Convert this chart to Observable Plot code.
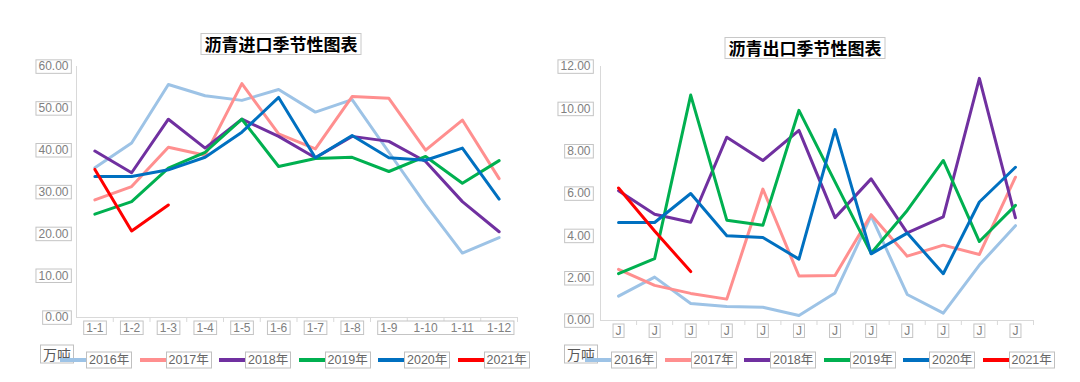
<!DOCTYPE html>
<html><head><meta charset="utf-8">
<script src="https://cdn.jsdelivr.net/npm/d3@7"></script>
<script src="https://cdn.jsdelivr.net/npm/@observablehq/plot@0.6"></script>
<style>
body{margin:0;background:#fff;}
#wrap{position:relative;width:1080px;height:382px;overflow:hidden;font-family:"Liberation Sans",Arial,"Noto Sans CJK SC",sans-serif;}
.panel{position:absolute;top:0;width:540px;height:382px;}
.panel svg{position:absolute;left:0;top:0;overflow:visible;}
.title{position:absolute;font-family:"Noto Sans CJK SC",sans-serif;font-weight:700;font-size:17px;color:#000;border:1px solid #c8c8c8;padding:0 3px;line-height:20px;white-space:nowrap;transform:translate(-50%,-50%);background:#fff;}
.unit{position:absolute;font-family:"Noto Sans CJK SC",sans-serif;font-size:14px;color:#595959;border:1px solid #c0c0c0;padding:0 2px;line-height:17px;transform:translateY(-50%);background:#fff;}
.lg-line{position:absolute;height:4px;margin-top:-2px;}
.lg-text{position:absolute;border:1px solid #c0c0c0;font-size:12.5px;color:#666;padding:0 2px;line-height:15px;transform:translateY(-50%);white-space:nowrap;background:#fff;font-family:"Liberation Sans","Noto Sans CJK SC",sans-serif;}
</style>
</head><body>
<div id="wrap">
  <div class="panel" id="left" style="left:0"></div>
  <div class="panel" id="right" style="left:540px"></div>
</div>
<script>
// ---- data ----
const years = ["2016年","2017年","2018年","2019年","2020年","2021年"];
const colors = ["#9dc3e6","#ff8f8f","#7030a0","#00b050","#0070c0","#ff0000"];

const importMonths = ["1-1","1-2","1-3","1-4","1-5","1-6","1-7","1-8","1-9","1-10","1-11","1-12"];
const importTicks = [0,10,20,30,40,50,60];
const import2016 = [35.8,41.7,55.7,53.0,51.9,54.5,49.1,52.1,39.5,27.0,15.4,19.1];
const import2017 = [28.1,31.3,40.7,38.8,55.9,43.9,40.3,52.8,52.4,40.0,47.2,33.2];
const import2018 = [39.8,34.6,47.4,40.5,47.4,43.3,38.2,43.3,42.1,37.3,27.7,20.5];
const import2019 = [24.7,27.7,35.7,39.5,47.4,36.1,38.0,38.3,34.9,38.5,32.1,37.5];
const import2020 = [33.7,33.7,35.3,38.3,44.3,52.6,38.2,43.5,38.2,37.6,40.5,28.3];
const import2021 = [35.4,20.7,26.9];

const exportMonths = [1,2,3,4,5,6,7,8,9,10,11,12];
const exportMonthLabels = ["J","J","J","J","J","J","J","J","J","J","J","J"];
const exportTicks = [0,2,4,6,8,10,12];
const export2016 = [1.15,2.05,0.80,0.66,0.63,0.24,1.30,4.94,1.23,0.35,2.62,4.48];
const export2017 = [2.42,1.66,1.28,1.01,6.21,2.10,2.13,5.00,3.04,3.56,3.12,6.77];
const export2018 = [6.13,5.02,4.64,8.66,7.56,8.98,4.86,6.69,4.14,4.90,11.44,4.85];
const export2019 = [2.21,2.92,10.65,4.74,4.50,9.93,6.55,3.18,5.20,7.56,3.73,5.44];
const export2020 = [4.63,4.63,6.00,4.00,3.92,2.90,9.02,3.15,4.13,2.21,5.60,7.24];
const export2021 = [6.26,4.23,2.31];

function rows(series, domain) {
  return series.flatMap((vals, i) => vals.map((v, j) => ({year: years[i], x: domain[j], v})));
}

function textBox(t) {
  const bb = t.getBBox();
  let tx = 0, ty = 0;
  const tl = t.transform && t.transform.baseVal;
  if (tl && tl.numberOfItems) { const m = tl.consolidate().matrix; tx = m.e; ty = m.f; }
  const x = (+t.getAttribute("x") || 0) * 0, y = 0; // bbox already includes x/y attrs
  return {x0: bb.x + tx, y0: bb.y + ty, x1: bb.x + bb.width + tx, y1: bb.y + bb.height + ty};
}

function addBoxes(svg, groupIndex, merge) {
  const groups = svg.querySelectorAll('g[aria-label="text"]');
  const g = groups[groupIndex];
  const texts = Array.from(g.querySelectorAll("text"));
  const ns = "http://www.w3.org/2000/svg";
  const boxes = [];
  if (merge) {
    const [a, b] = merge;
    texts.forEach((t, i) => { if (i < a) boxes.push([t]); });
    boxes.push(texts.slice(a, b + 1));
  } else texts.forEach(t => boxes.push([t]));
  for (const list of boxes) {
    let x0 = Infinity, y0 = Infinity, x1 = -Infinity, y1 = -Infinity;
    for (const t of list) {
      const b = textBox(t);
      x0 = Math.min(x0, b.x0); y0 = Math.min(y0, b.y0);
      x1 = Math.max(x1, b.x1); y1 = Math.max(y1, b.y1);
    }
    const r = document.createElementNS(ns, "rect");
    r.setAttribute("x", x0 - 2.5); r.setAttribute("y", y0 + 0.5);
    r.setAttribute("width", x1 - x0 + 5); r.setAttribute("height", y1 - y0 - 0.5);
    r.setAttribute("fill", "#fff"); r.setAttribute("stroke", "#c4c4c4"); r.setAttribute("stroke-width", 1);
    g.insertBefore(r, texts[0]);
  }
}

function chart(el, cfg) {
  const bw = (540 - cfg.ml - cfg.mr) / 12;
  const svg = Plot.plot({
    width: 540, height: 382,
    marginLeft: cfg.ml, marginRight: cfg.mr, marginTop: cfg.mt, marginBottom: cfg.mb,
    x: {type: "band", domain: cfg.domain, padding: 0, round: false, axis: null},
    y: {domain: cfg.ydomain, axis: null},
    color: {domain: years, range: colors},
    style: {fontFamily: '"Liberation Sans", Arial, sans-serif', fontSize: "12px", background: "transparent", overflow: "visible"},
    marks: [
      Plot.ruleY([0], {stroke: "#d9d9d9"}),
      Plot.ruleX([cfg.domain[0]], {x: d => d, dx: -bw / 2, stroke: "#d9d9d9"}),
      Plot.ruleX(cfg.domain, {x: d => d, dx: bw / 2, y1: 0, y2: 0, insetBottom: -5, stroke: "#d9d9d9"}),
      Plot.text(cfg.yticks, {y: d => d, text: d => d.toFixed(2), frameAnchor: "left", textAnchor: "end", dx: cfg.ydx, fill: "#808080"}),
      Plot.text(cfg.domain, {x: d => d, text: (d, i) => cfg.labels[i], frameAnchor: "bottom", dy: 14, fill: "#808080"}),
      Plot.line(rows(cfg.series, cfg.domain), {x: "x", y: "v", z: "year", stroke: "year", strokeWidth: 3, strokeLinejoin: "round", strokeLinecap: "round"})
    ]
  });
  el.appendChild(svg);
  addBoxes(svg, 0);
  addBoxes(svg, 1, cfg.merge);

  const t = document.createElement("div");
  t.className = "title"; t.textContent = cfg.title;
  t.style.left = cfg.tx + "px"; t.style.top = cfg.ty + "px";
  el.appendChild(t);

  const u = document.createElement("div");
  u.className = "unit"; u.textContent = "万吨";
  u.style.left = cfg.ux + "px"; u.style.top = "354px";
  el.appendChild(u);

  years.forEach((y, i) => {
    const x = cfg.lx + i * 79.5;
    const l = document.createElement("div");
    l.className = "lg-line"; l.style.background = colors[i];
    l.style.left = x + "px"; l.style.width = "27px"; l.style.top = "360px";
    el.appendChild(l);
    const s = document.createElement("div");
    s.className = "lg-text"; s.textContent = y;
    s.style.left = (x + 26) + "px"; s.style.top = "360px";
    el.appendChild(s);
  });
}

chart(document.getElementById("left"), {
  ml: 76, mr: 23, mt: 66, mb: 65,
  domain: importMonths, labels: importMonths, ydomain: [0, 60], yticks: importTicks, ydx: -8,
  series: [import2016, import2017, import2018, import2019, import2020, import2021],
  merge: [8, 11],
  title: "沥青进口季节性图表", tx: 281, ty: 44, ux: 40, lx: 60
});
chart(document.getElementById("right"), {
  ml: 60, mr: 47, mt: 66, mb: 62,
  domain: exportMonths, labels: exportMonthLabels, ydomain: [0, 12], yticks: exportTicks, ydx: -10,
  series: [export2016, export2017, export2018, export2019, export2020, export2021],
  merge: null,
  title: "沥青出口季节性图表", tx: 265, ty: 48, ux: 24, lx: 45
});
</script>
</body></html>
